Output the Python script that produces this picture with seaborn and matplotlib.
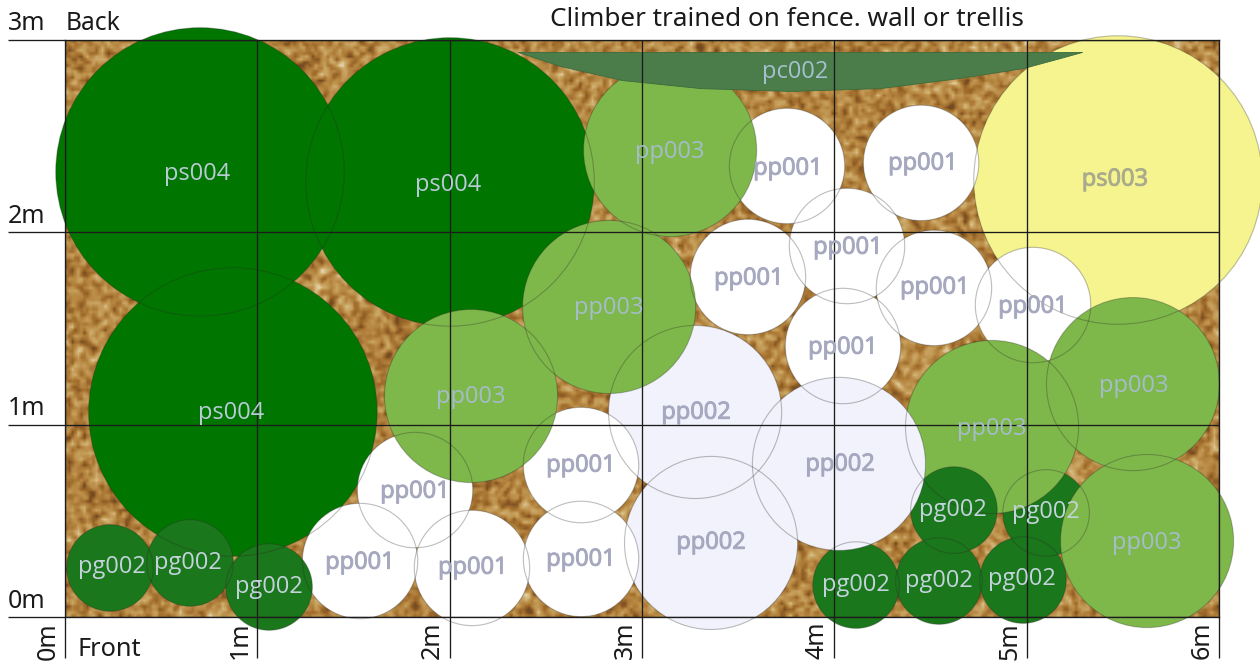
import numpy as np
import pandas as pd
import matplotlib
matplotlib.use("Agg")
import matplotlib.pyplot as plt
from matplotlib.colors import LinearSegmentedColormap
from matplotlib.transforms import ScaledTranslation
import matplotlib.patheffects as pe
import seaborn as sns

# ---------- data (metres), listed in planting / paint order ----------
plant_codes = ["ps003", "ps004", "ps004", "ps004",
               "pp001", "pp001", "pp001", "pp001", "pp001", "pp001", "pp001", "pp001",
               "pg002", "pp003", "pg002", "pg002",
               "pp002", "pp002", "pp002",
               "pp001", "pp001", "pp001", "pp001",
               "pg002", "pg002",
               "pp003", "pp003", "pp003", "pp003", "pp003",
               "pg002", "pg002", "pg002"]
plant_x = [5.475, 0.702, 2.002, 0.873,
           4.045, 3.754, 4.451, 3.551, 4.066, 4.518, 5.033, 1.820,
           5.101, 4.820, 4.622, 4.113,
           4.024, 3.276, 3.359,
           1.534, 2.116, 2.683, 2.683,
           4.544, 4.981,
           2.111, 2.829, 3.146, 5.553, 5.626,
           0.234, 0.650, 1.061]
plant_y = [2.272, 2.314, 2.262, 1.066,
           1.409, 2.345, 2.361, 1.768, 1.929, 1.711, 1.622, 0.660,
           0.541, 0.988, 0.556, 0.166,
           0.796, 1.066, 0.385,
           0.291, 0.255, 0.790, 0.302,
           0.187, 0.192,
           1.149, 1.612, 2.428, 1.211, 0.395,
           0.255, 0.281, 0.156]
label_x = [5.459, 0.686, 1.991, 0.863,
           4.045, 3.759, 4.461, 3.556, 4.071, 4.523, 5.033, 1.820,
           5.101, 4.820, 4.617, 4.113,
           4.030, 3.281, 3.359,
           1.534, 2.121, 2.683, 2.683,
           4.544, 4.976,
           2.111, 2.829, 3.146, 5.558, 5.626,
           0.244, 0.640, 1.061]
label_y = [2.283, 2.314, 2.257, 1.071,
           1.409, 2.340, 2.366, 1.768, 1.929, 1.721, 1.622, 0.660,
           0.556, 0.988, 0.567, 0.177,
           0.801, 1.071, 0.395,
           0.291, 0.265, 0.796, 0.307,
           0.198, 0.208,
           1.154, 1.617, 2.428, 1.211, 0.395,
           0.270, 0.291, 0.166]
spread_by_code = {"ps003": 1.5, "ps004": 1.5, "pp003": 0.9, "pp002": 0.9,
                  "pp001": 0.6, "pg002": 0.45}

climber_code = "pc002"
climber_x = [2.355, 2.574, 2.896, 3.302, 3.770, 4.238, 4.654, 4.981, 5.173, 5.288]
climber_low = [2.938, 2.865, 2.792, 2.750, 2.735, 2.750, 2.803, 2.854, 2.906, 2.938]
climber_high = 2.938
climber_label = (3.796, 2.835)

x_ticks = [0, 1, 2, 3, 4, 5, 6]
y_ticks = [0, 1, 2, 3]
x_tick_labels = ["0m", "1m", "2m", "3m", "4m", "5m", "6m"]
y_tick_labels = ["0m", "1m", "2m", "3m"]

# ---------- style ----------
fill_colors = {"ps003": "#f5f48f", "ps004": "#007600", "pp003": "#7fb84a",
               "pp002": "#f1f2fb", "pp001": "#ffffff", "pg002": "#1b771b"}
label_colors = {"ps003": "#a9ab8c", "ps004": "#b9cbd6", "pp003": "#a5bccb",
                "pp002": "#a6a8bf", "pp001": "#a6a8bf", "pg002": "#c3d3dc"}
LINE = "#1c1c1c"
W, H = 1260, 664
L, R, T, B = 65, 1219, 40, 617
PPM = (R - L) / 6.0   # pixels per metre

sns.set_theme(style="white")
plt.rcParams["font.family"] = ["Open Sans", "DejaVu Sans"]

fig = plt.figure(figsize=(W / 100, H / 100), dpi=100)
ax = fig.add_axes([L / W, (H - B) / H, (R - L) / W, (B - T) / H])

# ---------- gravel texture (deterministic hash noise, decoration only) ----------
ny, nx = 192, 384
jj, ii = np.mgrid[0:ny, 0:nx]
h = np.sin(ii * 12.9898 + jj * 78.233) * 43758.5453
h = h - np.floor(h)
sm = h.copy()
for sx, sy in [(1, 0), (0, 1)]:
    sm = (sm + np.roll(sm, (sy, sx), (0, 1))) / 2
sm = (sm - sm.mean()) / sm.std()
gravel = LinearSegmentedColormap.from_list(
    "gravel", ["#744a22", "#a06c2c", "#b88a44", "#cba766", "#e6d7b0"])
ax.imshow(sm, cmap=gravel, vmin=-2.4, vmax=3.0, extent=(0, 6, 0, 3),
          aspect="auto", interpolation="bilinear", zorder=0)

# ---------- plants ----------
df = pd.DataFrame({"code": plant_codes, "x": plant_x, "y": plant_y})
sizes = {k: (v * PPM * 0.72) ** 2 for k, v in spread_by_code.items()}

sns.scatterplot(data=df, x="x", y="y", hue="code", palette=fill_colors,
                size="code", sizes=sizes, linewidth=0, legend=False,
                clip_on=False, zorder=1, ax=ax)
sns.scatterplot(data=df, x="x", y="y", size="code", sizes=sizes,
                legend=False, clip_on=False, zorder=1.2, ax=ax)
outline = ax.collections[-1]
outline.set_facecolor("none")
outline.set_edgecolor((0.15, 0.15, 0.15, 0.3))
outline.set_linewidth(0.8)

ax.fill_between(climber_x, climber_low, climber_high, color="#4a7d4a",
                edgecolor="#3d6a3d", linewidth=0.6, clip_on=False, zorder=1.5)

# ---------- axes, grid and ticks ----------
ax.set_xlim(0, 6)
ax.set_ylim(0, 3)
ax.set_xlabel("")
ax.set_ylabel("")
ax.set_xticks(x_ticks, x_tick_labels, rotation=90, fontsize=18, color="#1a1a1a",
              family=["Noto Sans", "DejaVu Sans"], va="top", ha="center")
ax.set_yticks(y_ticks, y_tick_labels, fontsize=18, color="#1a1a1a",
              family=["Noto Sans", "DejaVu Sans"], va="center", ha="right")
ax.grid(True, color=LINE, linewidth=0.95)
ax.set_axisbelow(False)
ax.tick_params(axis="x", bottom=True, length=41 * 0.72, width=0.95, color=LINE, pad=-26)
ax.tick_params(axis="y", left=True, length=57 * 0.72, width=0.95, color=LINE, pad=-26.6)
for s in ax.spines.values():
    s.set_color(LINE)
    s.set_linewidth(0.95)
    s.set_zorder(2.6)
dx = ScaledTranslation(-17 / 100, 0, fig.dpi_scale_trans)
dy = ScaledTranslation(0, 16 / 100, fig.dpi_scale_trans)
for t in ax.get_xticklabels():
    t.set_transform(t.get_transform() + dx)
for t in ax.get_yticklabels():
    t.set_transform(t.get_transform() + dy)

# ---------- labels ----------
halo = {"pp001": 0.7, "pp002": 0.7, "ps003": 0.7}
for code, x, y in zip(plant_codes, label_x, label_y):
    txt = ax.annotate(code, (x, y), xytext=(0, -1.2), textcoords="offset points",
                      ha="center", va="center", fontsize=17,
                      color=label_colors[code], zorder=3)
    if code in halo:
        txt.set_path_effects([pe.withStroke(linewidth=halo[code],
                                            foreground=label_colors[code])])
ax.annotate(climber_code, climber_label, ha="center", va="center",
            fontsize=17, color="#a5c0cf", zorder=3)

head = dict(color="#1a1a1a", family=["Noto Sans", "DejaVu Sans"], va="center")
fig.text(66 / W, 1 - 23 / H, "Back", fontsize=17.7, ha="left", **head)
fig.text(78 / W, 1 - 649 / H, "Front", fontsize=18.2, ha="left", **head)
fig.text(786.5 / W, 1 - 20 / H, "Climber trained on fence. wall or trellis",
         fontsize=18.8, ha="center", **head)

fig.savefig("out.png", dpi=100, facecolor="white")
